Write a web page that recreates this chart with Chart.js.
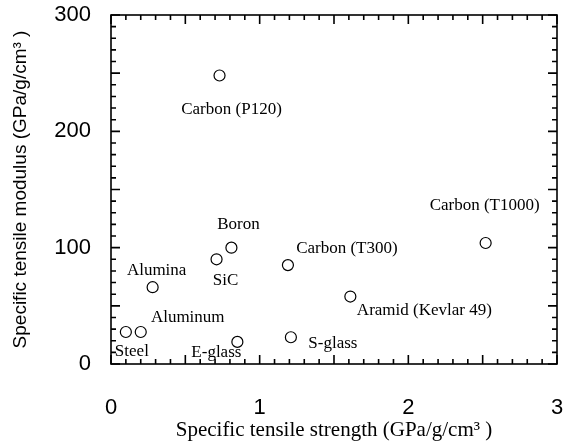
<!doctype html>
<html>
<head>
    <title>Specific modulus vs specific strength</title>
    <script src="https://cdn.jsdelivr.net/npm/chart.js@4.4.0/dist/chart.umd.min.js"></script>
    <style>
    body { margin: 0; background: #fff; }
    </style>
</head>
<body>
    <canvas id="chart-area" width="564" height="444"></canvas>
    <script>
        // values
        var materials = ['Carbon (P120)', 'Boron', 'SiC', 'Alumina', 'Aluminum', 'Steel',
                         'E-glass', 'Carbon (T300)', 'S-glass', 'Aramid (Kevlar 49)', 'Carbon (T1000)'];
        var strength = [0.73, 0.81, 0.71, 0.28, 0.20, 0.10, 0.85, 1.19, 1.21, 1.61, 2.52];
        var modulus  = [248, 100, 90, 66, 27.5, 27.5, 19, 85, 23, 58, 104];
        var xTicks = [0, 1, 2, 3];
        var yTicks = [0, 100, 200, 300];

        // where each name sits relative to its circle (px)
        var labelDx = [12, 7, 9, 4, 47, 6, -21, 59, 42, 74, -1];
        var labelDy = [34, -23, 21, -17, -14, 20, 11, -17, 6, 14, -37];

        var points = strength.map(function (s, i) { return {x: s, y: modulus[i]}; });

        var frameTicks = {
            id: 'frameTicks',
            afterDraw: function (chart) {
                var ctx = chart.ctx, a = chart.chartArea;
                var xs = chart.scales.x, ys = chart.scales.y;
                ctx.save();
                ctx.strokeStyle = '#000';
                ctx.lineWidth = 1.6;
                ctx.strokeRect(a.left, a.top, a.right - a.left, a.bottom - a.top);
                ctx.beginPath();
                for (var i = 0; i <= 30; i++) {
                    var px = xs.getPixelForValue(i / 10);
                    var len = (i % 5 == 0) ? 9 : 5;
                    ctx.moveTo(px, a.bottom); ctx.lineTo(px, a.bottom - len);
                    ctx.moveTo(px, a.top); ctx.lineTo(px, a.top + len);
                }
                for (var j = 0; j <= 30; j++) {
                    var py = ys.getPixelForValue(j * 10);
                    var l = (j % 5 == 0) ? 9 : 5;
                    ctx.moveTo(a.left, py); ctx.lineTo(a.left + l, py);
                    ctx.moveTo(a.right, py); ctx.lineTo(a.right - l, py);
                }
                ctx.stroke();
                ctx.restore();
            }
        };

        var pointNames = {
            id: 'pointNames',
            afterDatasetsDraw: function (chart) {
                var ctx = chart.ctx;
                var meta = chart.getDatasetMeta(0);
                ctx.save();
                ctx.fillStyle = '#000';
                ctx.font = '17px "Liberation Serif", "DejaVu Serif", serif';
                ctx.textAlign = 'center';
                ctx.textBaseline = 'middle';
                meta.data.forEach(function (el, i) {
                    ctx.fillText(materials[i], el.x + labelDx[i], el.y + labelDy[i]);
                });
                ctx.restore();
            }
        };

        var ctx = document.getElementById('chart-area').getContext('2d');
        window.myScatter = new Chart(ctx, {
            type: 'scatter',
            data: {
                datasets: [{
                    label: 'materials',
                    data: points,
                    pointStyle: 'circle',
                    pointRadius: 5.5,
                    pointBackgroundColor: 'rgba(0,0,0,0)',
                    pointBorderColor: '#000',
                    pointBorderWidth: 1.2
                }]
            },
            options: {
                responsive: false,
                devicePixelRatio: 1,
                animation: false,
                layout: { padding: { top: 15, right: 7, left: 0, bottom: 0 } },
                plugins: {
                    legend: { display: false },
                    tooltip: { enabled: false }
                },
                scales: {
                    x: {
                        type: 'linear',
                        min: 0,
                        max: 3,
                        afterFit: function (s) {
                            s.height = 80;
                            s.paddingLeft = 0; s.paddingRight = 0;
                        },
                        afterBuildTicks: function (s) { s.ticks = xTicks.map(function (v) { return {value: v}; }); },
                        grid: { display: false, drawTicks: false },
                        border: { display: false },
                        ticks: {
                            padding: 31,
                            color: '#000',
                            font: { family: '"Liberation Sans", Arial, sans-serif', size: 22 }
                        },
                        title: {
                            display: true,
                            text: 'Specific tensile strength (GPa/g/cm\u00b3 )',
                            color: '#000',
                            padding: { top: 0, bottom: 1 },
                            font: { family: '"Liberation Serif", "DejaVu Serif", serif', size: 21 }
                        }
                    },
                    y: {
                        type: 'linear',
                        min: 0,
                        max: 300,
                        afterFit: function (s) {
                            s.width = 111;
                            s.paddingTop = 0; s.paddingBottom = 0;
                        },
                        afterBuildTicks: function (s) { s.ticks = yTicks.map(function (v) { return {value: v}; }); },
                        grid: { display: false, drawTicks: false },
                        border: { display: false },
                        ticks: {
                            padding: 20,
                            color: '#000',
                            font: { family: '"Liberation Sans", Arial, sans-serif', size: 22 }
                        },
                        title: {
                            display: true,
                            text: 'Specific tensile modulus (GPa/g/cm\u00b3 )',
                            color: '#000',
                            padding: { top: 9, bottom: 0 },
                            font: { family: '"Liberation Sans", Arial, sans-serif', size: 19 }
                        }
                    }
                }
            },
            plugins: [frameTicks, pointNames]
        });
    </script>
</body>
</html>
